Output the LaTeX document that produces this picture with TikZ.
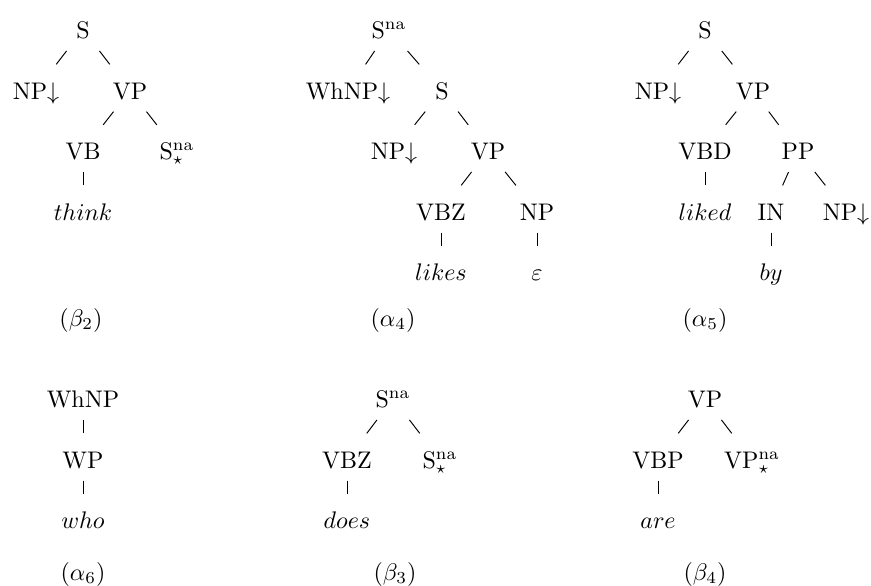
\documentclass[tikz,border=0pt]{standalone}
\usepackage{amsmath}
\usetikzlibrary{calc}

\tikzset{every picture/.style={line width=0.4pt}}
\tikzset{tag/.style={anchor=base,inner sep=0pt,text height=7pt,text depth=0pt}}

\begin{document}
\begin{tikzpicture}[x=0.4167pt,y=0.4167pt,yscale=-1,xscale=1,every node/.style={tag}]
		\useasboundingbox (0,0) rectangle (871,585); %set diagram to 871 by 585

		% Text Node
		\node (b2S) at (83,38) {S};
		% Text Node
		\node (b2NP) at (36,99) {NP$\downarrow$};
		% Text Node
		\node (b2VP) at (130,99) {VP};
		% Text Node
		\node (b2VB) at (83,159) {VB};
		% Text Node
		\node (b2Sf) at (177,159) {S$^{\text{na}}_{\star}$};
		% Text Node
		\node (b2w) at (83,220) {$think$};
		% Text Node
		\node (b2lab) at (81,326) {$(\beta_{2})$};

		% Text Node
		\node (a4S) at (389,38) {S$^{\text{na}}$};
		% Text Node
		\node (a4Wh) at (348,99) {WhNP$\downarrow$};
		% Text Node
		\node (a4S2) at (442,99) {S};
		% Text Node
		\node (a4NP) at (394,159) {NP$\downarrow$};
		% Text Node
		\node (a4VP) at (488,159) {VP};
		% Text Node
		\node (a4VBZ) at (441,220) {VBZ};
		% Text Node
		\node (a4NP2) at (537,220) {NP};
		% Text Node
		\node (a4w) at (441,280) {$likes$};
		% Text Node
		\node (a4e) at (537,280) {$\varepsilon$};
		% Text Node
		\node (a4lab) at (393,326) {$(\alpha_{4})$};

		% Text Node
		\node (a5S) at (705,38) {S};
		% Text Node
		\node (a5NP) at (658,99) {NP$\downarrow$};
		% Text Node
		\node (a5VP) at (753,99) {VP};
		% Text Node
		\node (a5VBD) at (705,159) {VBD};
		% Text Node
		\node (a5PP) at (798,159) {PP};
		% Text Node
		\node (a5w) at (705,220) {$liked$};
		% Text Node
		\node (a5IN) at (771,220) {IN};
		% Text Node
		\node (a5NP2) at (846,220) {NP$\downarrow$};
		% Text Node
		\node (a5w2) at (771,280) {$by$};
		% Text Node
		\node (a5lab) at (705,326) {$(\alpha_{5})$};

		% Text Node
		\node (a6Wh) at (83,407) {WhNP};
		% Text Node
		\node (a6WP) at (83,468) {WP};
		% Text Node
		\node (a6w) at (83,528) {$who$};
		% Text Node
		\node (a6lab) at (83,580) {$(\alpha_{6})$};

		% Text Node
		\node (b3S) at (393,407) {S$^{\text{na}}$};
		% Text Node
		\node (b3VBZ) at (347,468) {VBZ};
		% Text Node
		\node (b3Sf) at (440,468) {S$^{\text{na}}_{\star}$};
		% Text Node
		\node (b3w) at (347,528) {$does$};
		% Text Node
		\node (b3lab) at (395,580) {$(\beta_{3})$};

		% Text Node
		\node (b4VP) at (705,407) {VP};
		% Text Node
		\node (b4VBP) at (658,468) {VBP};
		% Text Node
		\node (b4VPf) at (752,468) {VP$^{\text{na}}_{\star}$};
		% Text Node
		\node (b4w) at (658,528) {$are$};
		% Text Node
		\node (b4lab) at (705,580) {$(\beta_{4})$};

		%Straight Lines
		\draw ($(b2S)!.35!(b2NP)$) -- ($(b2S)!.57!(b2NP)$);
		%Straight Lines
		\draw ($(b2S)!.35!(b2VP)$) -- ($(b2S)!.57!(b2VP)$);
		%Straight Lines
		\draw ($(b2VP)!.35!(b2VB)$) -- ($(b2VP)!.57!(b2VB)$);
		%Straight Lines
		\draw ($(b2VP)!.35!(b2Sf)$) -- ($(b2VP)!.57!(b2Sf)$);
		%Straight Lines
		\draw ($(b2VB)!.35!(b2w)$) -- ($(b2VB)!.57!(b2w)$);

		%Straight Lines
		\draw ($(a4S)!.35!(a4Wh)$) -- ($(a4S)!.57!(a4Wh)$);
		%Straight Lines
		\draw ($(a4S)!.35!(a4S2)$) -- ($(a4S)!.57!(a4S2)$);
		%Straight Lines
		\draw ($(a4S2)!.35!(a4NP)$) -- ($(a4S2)!.57!(a4NP)$);
		%Straight Lines
		\draw ($(a4S2)!.35!(a4VP)$) -- ($(a4S2)!.57!(a4VP)$);
		%Straight Lines
		\draw ($(a4VP)!.35!(a4VBZ)$) -- ($(a4VP)!.57!(a4VBZ)$);
		%Straight Lines
		\draw ($(a4VP)!.35!(a4NP2)$) -- ($(a4VP)!.57!(a4NP2)$);
		%Straight Lines
		\draw ($(a4VBZ)!.35!(a4w)$) -- ($(a4VBZ)!.57!(a4w)$);
		%Straight Lines
		\draw ($(a4NP2)!.35!(a4e)$) -- ($(a4NP2)!.57!(a4e)$);

		%Straight Lines
		\draw ($(a5S)!.35!(a5NP)$) -- ($(a5S)!.57!(a5NP)$);
		%Straight Lines
		\draw ($(a5S)!.35!(a5VP)$) -- ($(a5S)!.57!(a5VP)$);
		%Straight Lines
		\draw ($(a5VP)!.35!(a5VBD)$) -- ($(a5VP)!.57!(a5VBD)$);
		%Straight Lines
		\draw ($(a5VP)!.35!(a5PP)$) -- ($(a5VP)!.57!(a5PP)$);
		%Straight Lines
		\draw ($(a5VBD)!.35!(a5w)$) -- ($(a5VBD)!.57!(a5w)$);
		%Straight Lines
		\draw ($(a5PP)!.35!(a5IN)$) -- ($(a5PP)!.57!(a5IN)$);
		%Straight Lines
		\draw ($(a5PP)!.35!(a5NP2)$) -- ($(a5PP)!.57!(a5NP2)$);
		%Straight Lines
		\draw ($(a5IN)!.35!(a5w2)$) -- ($(a5IN)!.57!(a5w2)$);

		%Straight Lines
		\draw ($(a6Wh)!.35!(a6WP)$) -- ($(a6Wh)!.57!(a6WP)$);
		%Straight Lines
		\draw ($(a6WP)!.35!(a6w)$) -- ($(a6WP)!.57!(a6w)$);

		%Straight Lines
		\draw ($(b3S)!.35!(b3VBZ)$) -- ($(b3S)!.57!(b3VBZ)$);
		%Straight Lines
		\draw ($(b3S)!.35!(b3Sf)$) -- ($(b3S)!.57!(b3Sf)$);
		%Straight Lines
		\draw ($(b3VBZ)!.35!(b3w)$) -- ($(b3VBZ)!.57!(b3w)$);

		%Straight Lines
		\draw ($(b4VP)!.35!(b4VBP)$) -- ($(b4VP)!.57!(b4VBP)$);
		%Straight Lines
		\draw ($(b4VP)!.35!(b4VPf)$) -- ($(b4VP)!.57!(b4VPf)$);
		%Straight Lines
		\draw ($(b4VBP)!.35!(b4w)$) -- ($(b4VBP)!.57!(b4w)$);

\end{tikzpicture}
\end{document}
